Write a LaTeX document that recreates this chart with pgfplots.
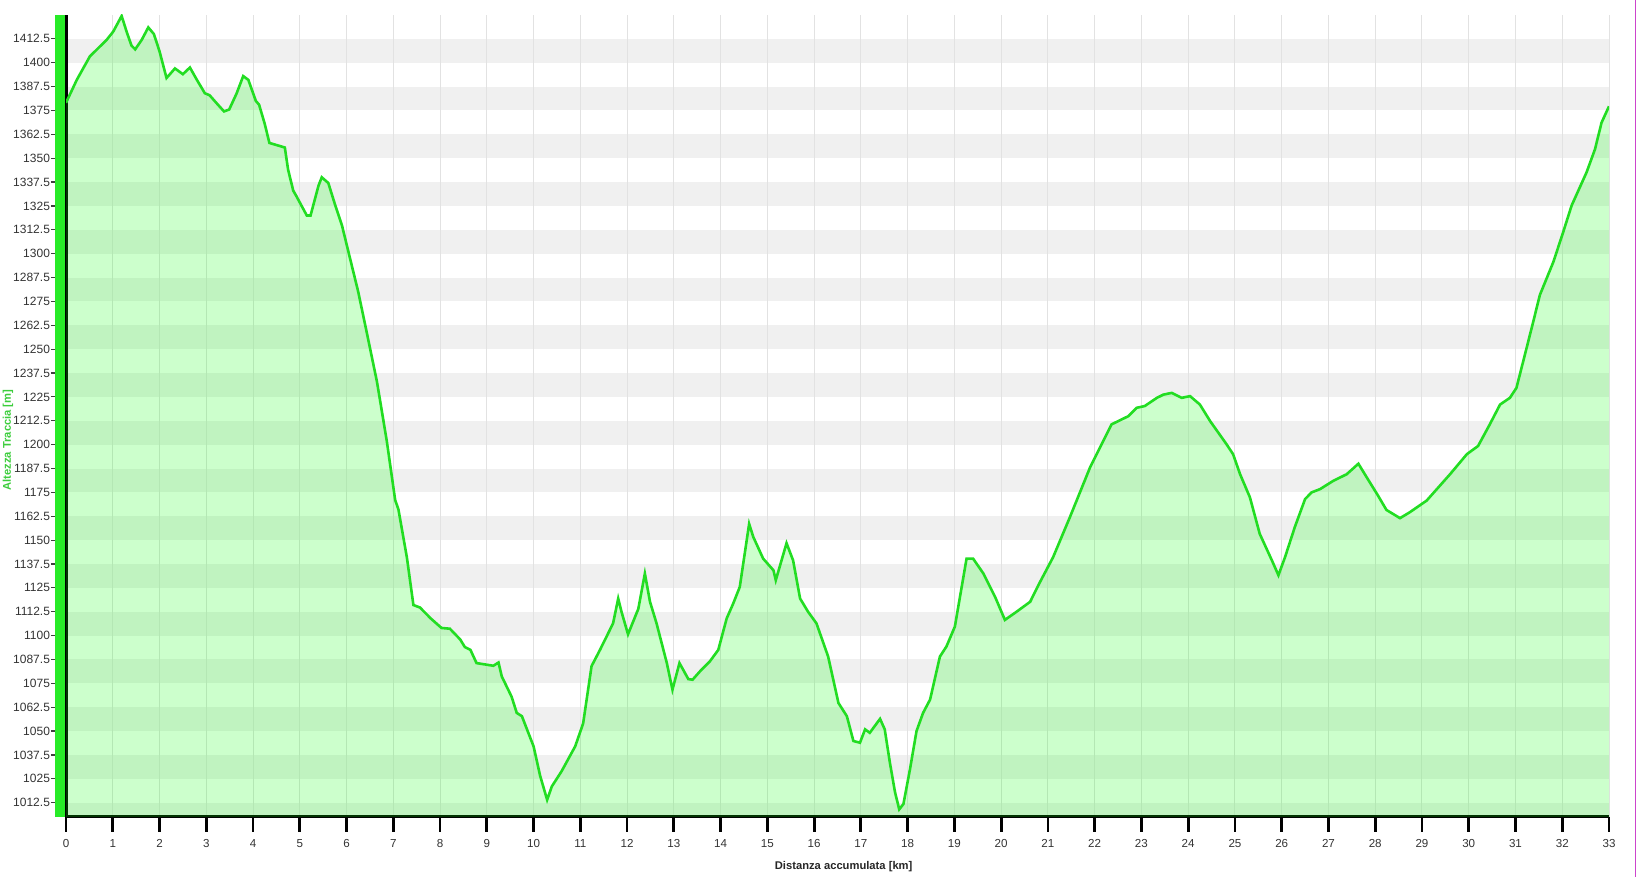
\documentclass[border=0pt]{standalone}
\usepackage{fontspec}
\setmainfont{Liberation Sans}
\usepackage{pgfplots}
\pgfplotsset{compat=1.18}
\usepackage{pgfplotstable}
\usetikzlibrary{calc}
\definecolor{lineg}{RGB}{34,221,34}
\definecolor{fillg}{RGB}{0,255,0}
\definecolor{bandg}{RGB}{240,240,240}
\definecolor{gridg}{RGB}{226,226,226}
\definecolor{barg}{RGB}{40,235,40}
\definecolor{labg}{RGB}{60,205,60}
\definecolor{borderm}{RGB}{204,68,204}

\pgfplotstableread{
km alt
0.00 1379
0.23 1391
0.51 1403.3
0.87 1412
1.01 1416.3
1.19 1424.5
1.30 1416
1.40 1409
1.48 1407
1.62 1412
1.76 1418.5
1.88 1415
2.00 1406
2.15 1392
2.33 1397
2.50 1394
2.65 1397.5
2.80 1391
2.97 1384
3.07 1383
3.25 1378
3.38 1374.5
3.49 1375.5
3.65 1384
3.79 1393
3.90 1391
4.06 1380
4.13 1378
4.25 1368
4.35 1358
4.68 1355.6
4.75 1344
4.86 1333
4.93 1330
5.15 1320
5.23 1320
5.40 1335.6
5.47 1340
5.61 1337
5.75 1326
5.90 1315
6.04 1301
6.25 1280
6.43 1259
6.65 1233
6.86 1202
7.04 1171
7.11 1166
7.29 1141
7.43 1116
7.57 1114.7
7.80 1109
8.03 1104
8.21 1103.6
8.43 1098
8.53 1094
8.65 1092.5
8.78 1085.6
9.14 1084.2
9.25 1085.9
9.32 1078.6
9.53 1068
9.64 1059.5
9.75 1057.8
10.00 1042
10.14 1026.6
10.29 1014
10.39 1021
10.60 1029
10.89 1042
11.06 1054
11.24 1084
11.42 1092.5
11.70 1106.4
11.81 1119.4
11.88 1112.5
12.02 1100.7
12.24 1114
12.38 1132.5
12.49 1117.7
12.63 1106.4
12.85 1085.6
12.97 1071.7
13.12 1085.6
13.31 1077.2
13.40 1076.9
13.56 1081.3
13.77 1086.5
13.95 1092.5
14.13 1109
14.27 1116.8
14.41 1125.5
14.61 1158.5
14.70 1151.6
14.91 1140.3
15.13 1134.2
15.18 1129
15.41 1148.4
15.55 1139.4
15.70 1119.4
15.87 1112.5
16.05 1106.4
16.30 1089
16.52 1064.7
16.70 1057.8
16.84 1044.8
16.98 1043.9
17.09 1050.9
17.19 1049.1
17.41 1056.4
17.51 1050.9
17.62 1033.5
17.73 1018
17.82 1009
17.91 1011.8
18.05 1030
18.19 1050
18.33 1059.5
18.48 1066.5
18.69 1089
18.83 1094.3
19.01 1104.7
19.26 1140.3
19.40 1140.3
19.62 1132.5
19.87 1120.3
20.08 1108.2
20.33 1112.5
20.62 1117.7
20.83 1128
21.11 1141
21.47 1162
21.90 1188
22.36 1210.6
22.72 1214.9
22.90 1219.3
23.07 1220.2
23.33 1224.5
23.47 1226.2
23.65 1227.1
23.86 1224.5
24.04 1225.4
24.25 1221
24.47 1212.3
24.82 1200.2
24.96 1195
25.11 1184.5
25.32 1172.4
25.53 1153.3
25.79 1139.4
25.93 1131.6
26.07 1141
26.28 1156.8
26.50 1171.5
26.64 1175
26.82 1176.7
27.10 1181
27.39 1184.5
27.64 1190
27.82 1182.8
28.06 1173.3
28.24 1165.8
28.53 1161.5
28.74 1164.6
29.10 1170.7
29.60 1184.5
29.96 1195
30.20 1199.3
30.45 1210.6
30.67 1221
30.88 1224.5
31.02 1229.7
31.20 1247
31.38 1264.4
31.52 1278.3
31.81 1295.7
32.02 1311.3
32.20 1325.2
32.52 1342.6
32.70 1354.7
32.84 1368.6
33.00 1377.2
}\profile

\begin{document}
\begin{tikzpicture}
\begin{axis}[
  set layers,
  scale only axis, width=771.5pt, height=401pt,
  xmin=0, xmax=33, ymin=1005, ymax=1425,
  xtick={0,...,33}, ytick={1012.5,1025,...,1412.5},
  axis x line*=bottom, axis y line*=left,
  axis line style={line width=1.5pt, black},
  tick align=outside, major tick length=7.5pt,
  xtick style={line width=1.4pt, black},
  ytick style={line width=0.6pt, black!75},
  xmajorgrids, grid style={gridg, line width=0.5pt},
  ticklabel style={font=\fontsize{6}{7}\selectfont, text=black!80},
  xticklabel style={font=\fontsize{5.8}{7}\selectfont},
  /pgf/number format/assume math mode=true,
  /pgf/number format/1000 sep={},
  yticklabel style={/pgf/number format/fixed, /pgf/number format/precision=1, xshift=3pt},
]
\begin{pgfonlayer}{axis background}
\fill[bandg] (axis cs:0,1005) rectangle (axis cs:33,1012.5);
\pgfplotsinvokeforeach{1,...,16}{\fill[bandg] (axis cs:0,{1000+25*#1}) rectangle (axis cs:33,{1012.5+25*#1});}
\end{pgfonlayer}
\addplot[draw=none, fill=fillg, fill opacity=0.2] table[x=km,y=alt]{\profile} \closedcycle;
\addplot[lineg, line width=1.3pt] table[x=km,y=alt]{\profile};
\coordinate (ll) at (rel axis cs:0,0);
\coordinate (ur) at (rel axis cs:1,1);
\coordinate (ul) at (rel axis cs:0,1);
\coordinate (lr) at (rel axis cs:1,0);
\end{axis}
\fill[barg] ([xshift=-5.75pt]ll) rectangle ([xshift=-0.75pt]ul);
\node[font=\bfseries\fontsize{5.6}{6}\selectfont, text=black!85] at ([yshift=-25pt]$(ll)!0.504!(lr)$) {Distanza accumulata [km]};
\node[rotate=90, font=\bfseries\fontsize{5.6}{6}\selectfont, text=labg] at ([xshift=-29pt]$(ll)!0.47!(ul)$) {Altezza Traccia [m]};
\pgfresetboundingbox
\path[use as bounding box] ([shift={(-33pt,-30pt)}]ll) rectangle ([shift={(14.5pt,7.5pt)}]ur);
\draw[borderm, line width=0.6pt] ([shift={(13.2pt,-30pt)}]lr) -- ([shift={(13.2pt,7.5pt)}]ur);
\end{tikzpicture}
\end{document}
